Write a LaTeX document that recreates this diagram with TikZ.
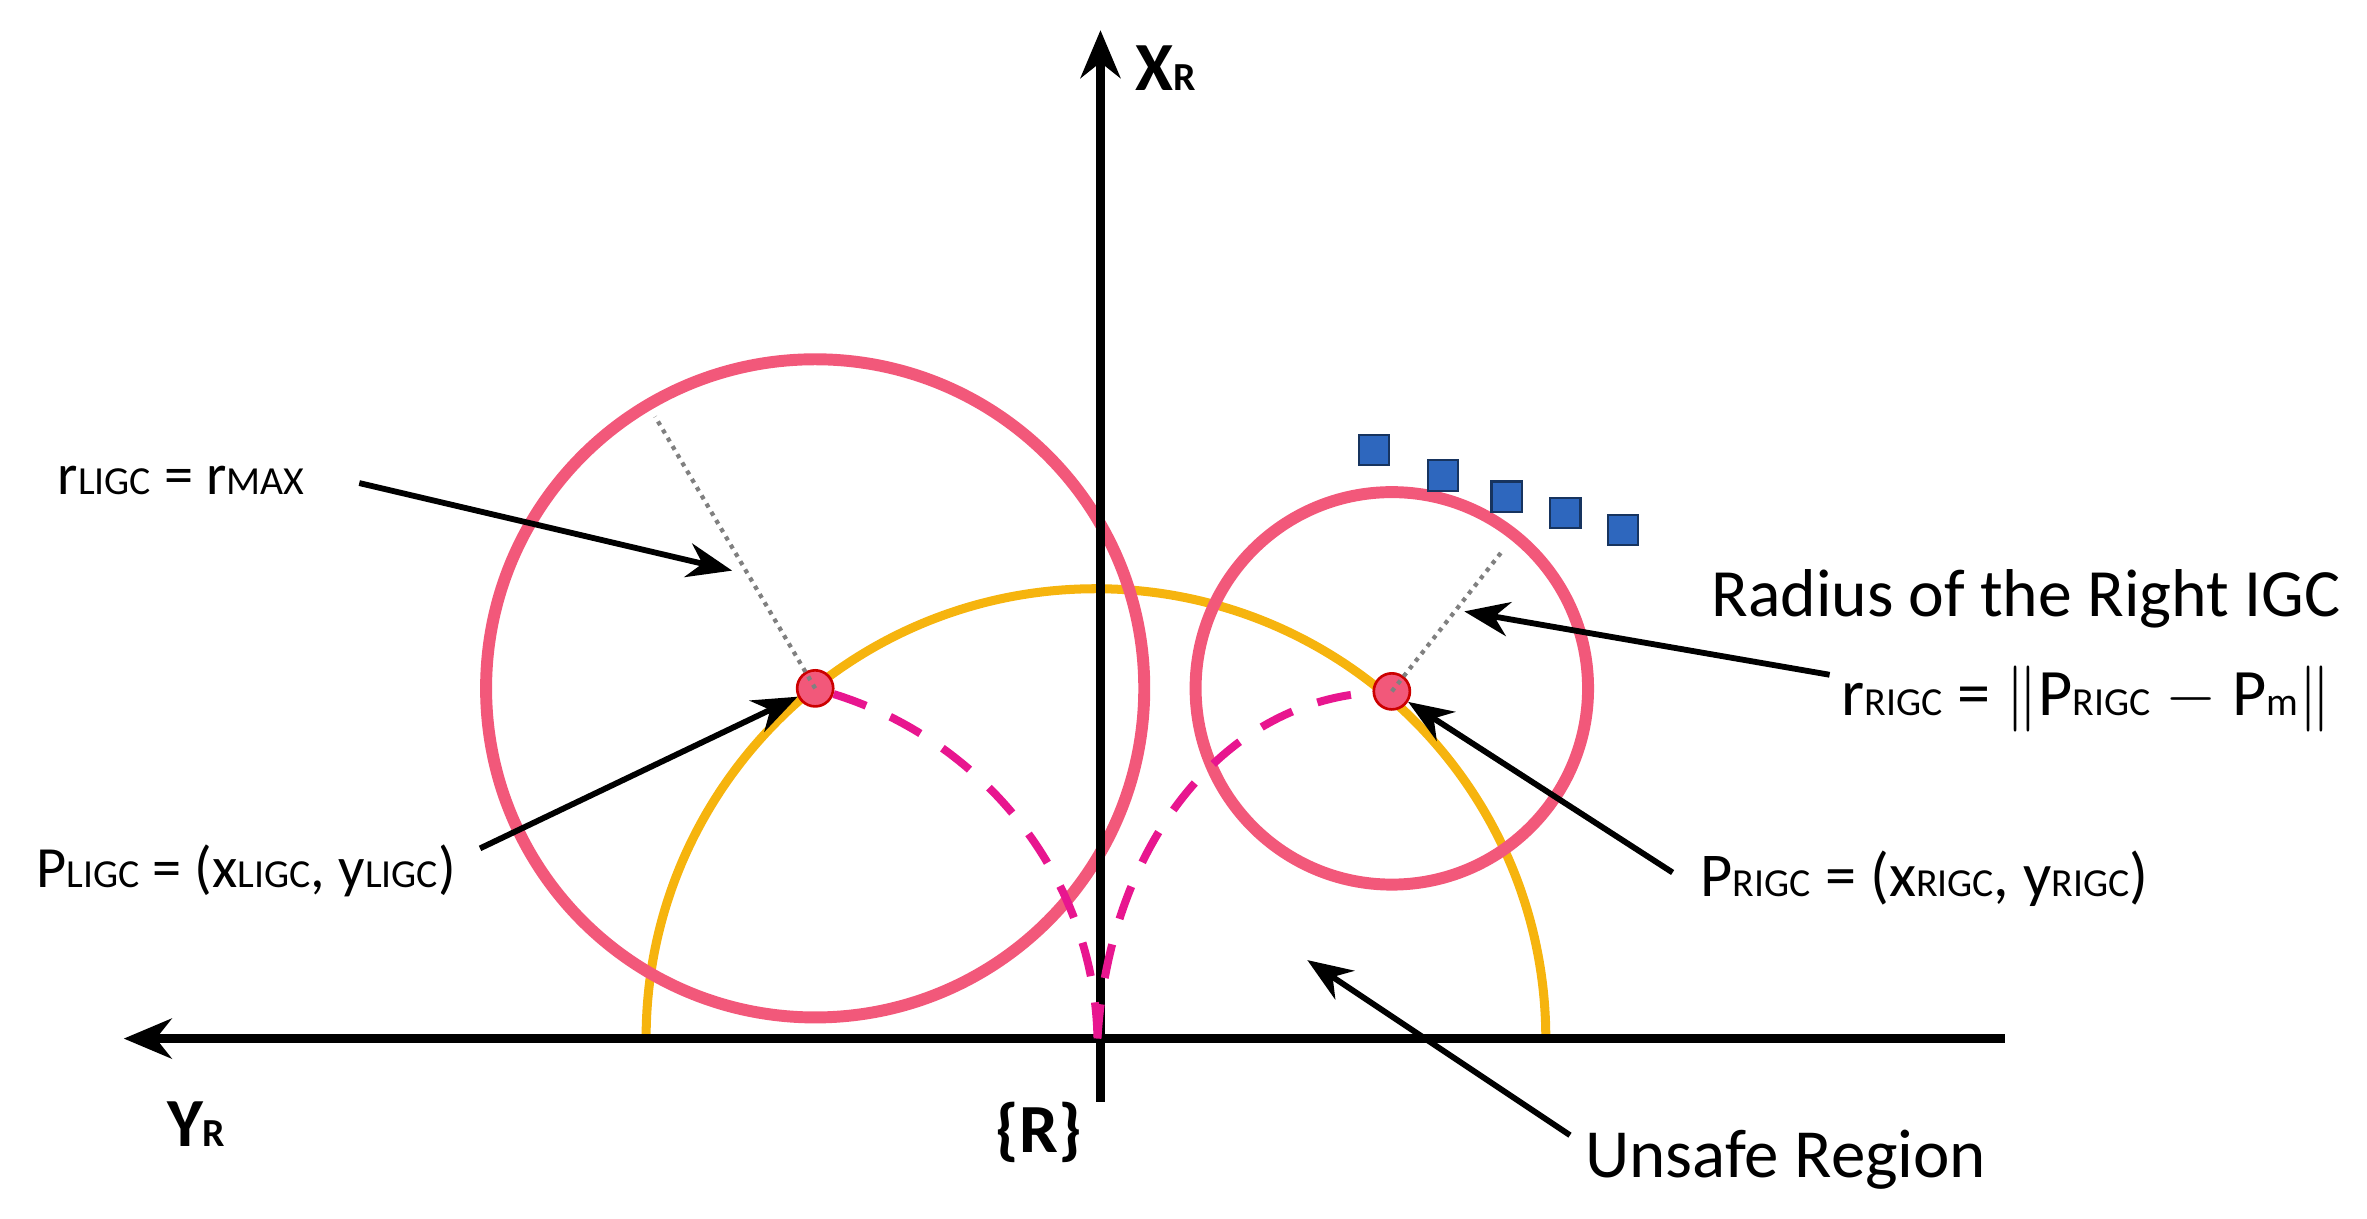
\documentclass[tikz,border=0pt]{standalone}
\usepackage{fontspec}
\setmainfont{Carlito}
\usetikzlibrary{arrows.meta}
\definecolor{igcpink}{HTML}{F2587A}
\definecolor{safeyel}{HTML}{F6B40E}
\definecolor{pathmag}{HTML}{E8168F}
\definecolor{obsblue}{HTML}{2E67BE}
\newcommand{\lbl}[1]{{\fontsize{15}{15}\selectfont #1}}
\tikzset{
    axis/.style={line width=3.4pt,-{Stealth[length=18pt,width=15pt]}},
    pointer/.style={line width=2.2pt,-{Stealth[length=17pt,width=13pt]}},
    igc/.style={draw=igcpink,line width=4.5pt},
    txt/.style={font=\fontsize{22}{24}\selectfont,inner sep=0pt},
}
\begin{document}
\begin{tikzpicture}[x=0.02cm,y=-0.02cm]
    \useasboundingbox (0,0) rectangle (1568,807);

    % Circles and unsafe region
    \draw [safeyel,line width=3.4pt] (428,688) arc [start angle=180,end angle=360,radius=298];
    \draw [igc] (540,456) circle [radius=218];
    \draw [igc] (922,456) circle [radius=130];

    % Axes
    \coordinate (O) at (727,688);
    \draw [axis] (1328,688) -- (82,688);
    \draw [axis] (729,730) -- (729,20);
    \node (XR) at (772,45) {\fontsize{26}{26}\selectfont\bfseries X\lbl{\bfseries R}};
    \node (YR) at (130,745) {\fontsize{26}{26}\selectfont\bfseries Y\lbl{\bfseries R}};
    \node (R) at (688,750) {\fontsize{26}{26}\selectfont\bfseries\{R\}};

    % Centres
    \node (PL) at (540,456) [circle,fill=igcpink,draw=red!80!black,line width=1pt,minimum size=24*0.567pt,inner sep=0pt] {};
    \node (PR) at (922,458) [circle,fill=igcpink,draw=red!80!black,line width=1pt,minimum size=24*0.567pt,inner sep=0pt] {};

    % Radii
    \draw [gray,line width=1.6pt,dotted] (PL.center) -- (434,276);
    \draw [gray,line width=1.6pt,dotted] (PR.center) -- (996,364);

    % Paths to origin
    \draw [pathmag,line width=3pt,dash pattern=on 13pt off 10pt] (PL) .. controls (650,490) and (725,580) .. (O);
    \draw [pathmag,line width=3pt,dash pattern=on 13pt off 10pt] (O) .. controls (735,560) and (810,465) .. (PR);

    % Obstacles
    \foreach \x/\y in {910/298,956/315,998/329,1037/340,1075/351}
        \draw [fill=obsblue,draw=obsblue!50!black,line width=0.8pt] (\x-10,\y-10) rectangle (\x+10,\y+10);

    % Labels
    \node (rL) at (120,318) [txt] {r\lbl{LIGC} = r\lbl{MAX}};
    \node (pL) at (163,577) [txt] {P\lbl{LIGC} = (x\lbl{LIGC}, y\lbl{LIGC})};
    \node (rad) at (1342,397) [txt,font=\fontsize{25.5}{27}\selectfont] {Radius of the Right IGC};
    \node (rR) at (1382,463) [txt,font=\fontsize{25}{27}\selectfont] {r\lbl{RIGC} = $\Vert$P\lbl{RIGC} $-$ P\lbl{m}$\Vert$};
    \node (pR) at (1275,582) [txt,font=\fontsize{23.5}{25}\selectfont] {P\lbl{RIGC} = (x\lbl{RIGC}, y\lbl{RIGC})};
    \node (us) at (1183,768) [txt,font=\fontsize{26}{28}\selectfont] {Unsafe Region};

    % Pointers
    \coordinate (a1) at (238,320);
    \coordinate (b1) at (485,378);
    \draw [pointer] (a1) -- (b1);
    \coordinate (a2) at (318,562);
    \draw [pointer] (a2) -- (PL);
    \coordinate (a3) at (1212,447);
    \coordinate (b3) at (970,405);
    \draw [pointer] (a3) -- (b3);
    \coordinate (a4) at (1108,578);
    \draw [pointer] (a4) -- (PR);
    \coordinate (a5) at (1040,752);
    \coordinate (b5) at (866,636);
    \draw [pointer] (a5) -- (b5);
\end{tikzpicture}
\end{document}
